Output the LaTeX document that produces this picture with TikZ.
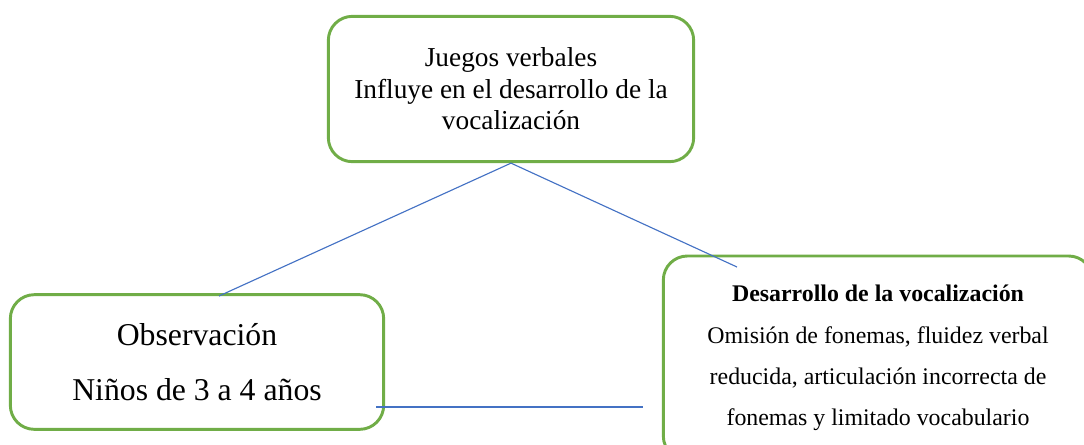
\documentclass[tikz,border=0pt]{standalone}
\usepackage{fontspec}
\setmainfont{Liberation Serif}
\definecolor{cajaverde}{HTML}{70AD47}
\definecolor{lineaazul}{HTML}{4472C4}
\begin{document}
\begin{tikzpicture}[x=0.75pt,y=-0.75pt,
		caja/.style={draw=cajaverde, line width=2.2pt, rounded corners=18pt, align=center, inner sep=0pt},
		enlace/.style={draw=lineaazul, line width=0.85pt}]
		\useasboundingbox (0,0) rectangle (1084,444);
		\clip (0,0) rectangle (1084,444);
		% cajas
		\node[caja, minimum width=274pt, minimum height=109pt, font=\fontsize{20.5}{23.6}\selectfont] (juegos) at (511,89) {Juegos verbales\\Influye en el desarrollo de la\\vocalización};
		\node[caja, minimum width=280pt, minimum height=101pt, font=\fontsize{23.8}{41}\selectfont] (obs) at (197,362) {Observación\\Niños de 3 a 4 años};
		\node[caja, minimum width=322pt, minimum height=153pt, font=\fontsize{17.9}{31}\selectfont] (desarrollo) at (878,358) {\textbf{Desarrollo de la vocalización}\\Omisión de fonemas, fluidez verbal\\reducida, articulación incorrecta de\\fonemas y limitado vocabulario};
		% enlaces
		\coordinate (izq) at (219,296);
		\coordinate (der) at (737,267);
		\coordinate (a) at (376,407);
		\coordinate (b) at (643,407);
		\draw[enlace] (juegos.south) -- (izq);
		\draw[enlace] (juegos.south) -- (der);
		\draw[enlace] (a) -- (b);
	\end{tikzpicture}
\end{document}
